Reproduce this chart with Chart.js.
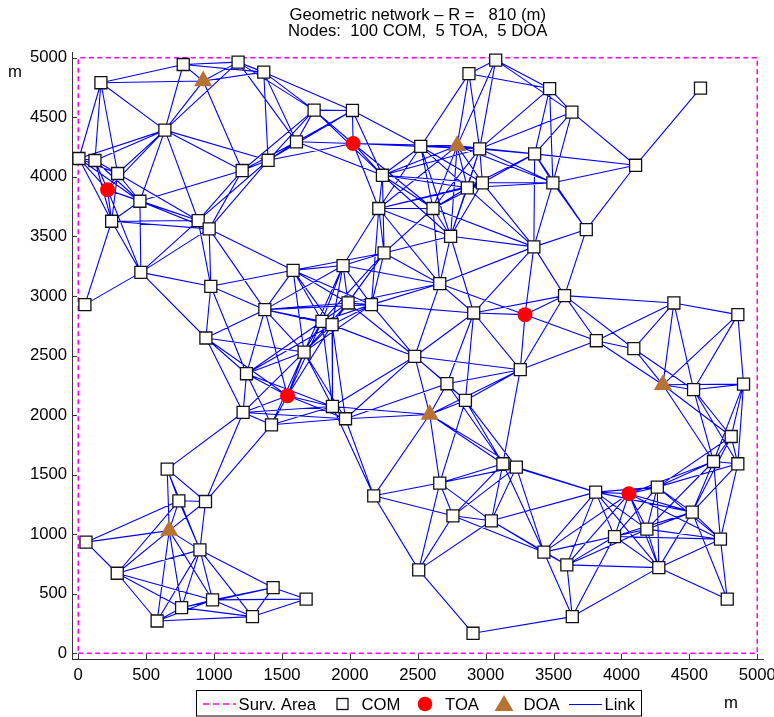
<!DOCTYPE html>
<html>
<head>
<meta charset="utf-8">
<script src="https://cdn.jsdelivr.net/npm/chart.js@4/dist/chart.umd.min.js"></script>
<style>
  html, body { margin: 0; padding: 0; background: #fff; }
  #wrap { position: relative; width: 774px; height: 717px; }
</style>
</head>
<body>
<div id="wrap"><canvas id="net" width="774" height="717"></canvas></div>
<script>
// Connection radius of the geometric network (m) and side of the surveillance square (m)
const LINK_RADIUS = 810;
const AREA_SIZE = 5000;

// Communication nodes (m)
const comX = [167,773,1177,1366,638,5,123,290,454,246,
              883,964,1207,1398,1737,2019,1607,2522,2877,3074,
              2956,2240,2976,2865,2213,2612,2742,3471,3635,3361,
              3495,4104,4582,3741,3355,461,49,976,1582,1374,
              940,1239,1214,1423,2252,1950,2662,1987,2159,1795,
              1869,2912,1663,2478,3255,2715,2851,1872,1968,3581,
              4386,4857,3815,4091,4531,4899,4808,655,741,937,
              57,896,287,1435,989,761,1283,581,1678,3127,
              3226,2662,2176,2759,3042,2507,2907,4678,4857,3810,
              4264,4521,4187,3949,4729,3429,3598,4275,4779,3638];
const comY = [4790,4943,4963,4879,4392,4154,4137,4028,3795,3627,
              3633,3563,4053,4139,4560,4557,4294,4255,4866,4980,
              4235,4013,3950,3908,3734,3734,3501,4741,4543,4193,
              3950,4097,4745,3557,3412,3198,2927,3081,3215,2885,
              2647,2347,2022,1918,3361,3255,3103,2941,2927,2787,
              2759,2857,2529,2492,2381,2263,2123,2072,1969,3003,
              2941,2843,2624,2557,2213,2260,1820,1546,1280,1274,
              933,868,672,551,448,383,308,271,455,1591,
              1563,1429,1322,1154,1112,700,168,1610,1591,1353,
              1395,1185,1042,980,958,849,742,719,454,308];

// Time-of-arrival anchors (m)
const toaX = [216, 2024, 3290, 1541, 4055];
const toaY = [3891, 4280, 2843, 2162, 1339];

// Direction-of-arrival anchors (m)
const doaX = [920, 2790, 2588, 4305, 670];
const doaY = [4804, 4260, 2005, 2254, 1030];

// Axis tick values (m)
const xTickValues = [0, 500, 1000, 1500, 2000, 2500, 3000, 3500, 4000, 4500, 5000];
const yTickValues = [0, 500, 1000, 1500, 2000, 2500, 3000, 3500, 4000, 4500, 5000];

const FONT = "'Liberation Sans', Arial, Helvetica, sans-serif";
const FONT_SIZE = 16.7;
const BLUE = '#0000ff';
const MAGENTA = '#ff00ff';
const COPPER = '#b87333';

const toPoints = (xs, ys) => xs.map((x, i) => ({ x: x, y: ys[i] }));

// Every pair of nodes closer than the radius gets a link
const allX = comX.concat(toaX, doaX);
const allY = comY.concat(toaY, doaY);
const linkPoints = [];
for (let i = 0; i < allX.length; i++) {
  for (let j = i + 1; j < allX.length; j++) {
    if (Math.hypot(allX[i] - allX[j], allY[i] - allY[j]) <= LINK_RADIUS) {
      linkPoints.push({ x: allX[i], y: allY[i] }, { x: allX[j], y: allY[j] }, { x: null, y: null });
    }
  }
}

const areaPoints = [
  { x: 0, y: 0 }, { x: AREA_SIZE, y: 0 }, { x: AREA_SIZE, y: AREA_SIZE },
  { x: 0, y: AREA_SIZE }, { x: 0, y: 0 }
];

// Titles, axis unit labels, inward tick marks and the boxed legend
const decorations = {
  id: 'decorations',
  afterDraw(chart) {
    const ctx = chart.ctx;
    const xs = chart.scales.x, ys = chart.scales.y;
    const area = chart.chartArea;
    ctx.save();

    // inward tick marks
    ctx.strokeStyle = '#333';
    ctx.lineWidth = 1;
    ctx.beginPath();
    xTickValues.forEach(v => {
      const px = Math.round(xs.getPixelForValue(v)) + 0.5;
      ctx.moveTo(px, area.bottom);
      ctx.lineTo(px, area.bottom - 5);
    });
    yTickValues.forEach(v => {
      const py = Math.round(ys.getPixelForValue(v)) + 0.5;
      ctx.moveTo(area.left, py);
      ctx.lineTo(area.left + 5, py);
    });
    ctx.stroke();

    ctx.fillStyle = '#000';
    ctx.font = FONT_SIZE + 'px ' + FONT;
    ctx.textBaseline = 'alphabetic';

    // title
    ctx.textAlign = 'center';
    const cx = (area.left + area.right) / 2;
    ctx.fillText('Geometric network \u2013 R =   810 (m)', cx, 20);
    ctx.fillText('Nodes:  100 COM,  5 TOA,  5 DOA', cx, 36);

    // axis units
    ctx.fillText('m', 15, 77);
    ctx.fillText('m', 731, 708);

    // legend
    const ly = 704;
    ctx.strokeStyle = '#000';
    ctx.lineWidth = 1;
    ctx.strokeRect(196.5, 690.5, 445, 25.5);

    ctx.strokeStyle = MAGENTA;
    ctx.lineWidth = 1.5;
    ctx.setLineDash([6, 4]);
    ctx.beginPath(); ctx.moveTo(203, ly); ctx.lineTo(236, ly); ctx.stroke();
    ctx.setLineDash([]);

    ctx.fillStyle = '#fff';
    ctx.strokeStyle = '#111';
    ctx.lineWidth = 1.3;
    ctx.fillRect(337, 698.5, 11, 11);
    ctx.strokeRect(337, 698.5, 11, 11);

    ctx.fillStyle = '#ff0000';
    ctx.beginPath(); ctx.arc(425, ly, 7.3, 0, Math.PI * 2); ctx.fill();

    ctx.fillStyle = COPPER;
    ctx.beginPath();
    ctx.moveTo(504, 695); ctx.lineTo(513.5, 711); ctx.lineTo(494.5, 711); ctx.closePath();
    ctx.fill();

    ctx.strokeStyle = BLUE;
    ctx.lineWidth = 1;
    ctx.beginPath(); ctx.moveTo(569, ly + 0.5); ctx.lineTo(602, ly + 0.5); ctx.stroke();

    ctx.fillStyle = '#000';
    ctx.textAlign = 'left';
    ctx.fillText('Surv. Area', 238.5, 709.5);
    ctx.fillText('COM', 361.5, 709.5);
    ctx.fillText('TOA', 445, 709.5);
    ctx.fillText('DOA', 523.5, 709.5);
    ctx.fillText('Link', 604.5, 709.5);

    ctx.restore();
  }
};

new Chart(document.getElementById('net'), {
  type: 'scatter',
  data: {
    datasets: [
      {
        label: 'Surv. Area',
        data: areaPoints,
        showLine: true,
        borderColor: MAGENTA,
        borderWidth: 1.5,
        borderDash: [5, 3.5],
        pointRadius: 0,
        fill: false,
        order: 5,
        clip: false
      },
      {
        label: 'Link',
        data: linkPoints,
        showLine: true,
        spanGaps: false,
        borderColor: BLUE,
        borderWidth: 1.1,
        pointRadius: 0,
        fill: false,
        order: 4,
        clip: false
      },
      {
        label: 'COM',
        data: toPoints(comX, comY),
        pointStyle: 'rect',
        pointRadius: 8.5,
        backgroundColor: '#ffffff',
        borderColor: '#111',
        borderWidth: 1.3,
        order: 3,
        clip: false
      },
      {
        label: 'TOA',
        data: toPoints(toaX, toaY),
        pointStyle: 'circle',
        pointRadius: 7.5,
        backgroundColor: '#ff0000',
        borderColor: '#ff0000',
        borderWidth: 0,
        order: 2,
        clip: false
      },
      {
        label: 'DOA',
        data: toPoints(doaX, doaY),
        pointStyle: 'triangle',
        pointRadius: 10.5,
        backgroundColor: COPPER,
        borderColor: COPPER,
        borderWidth: 0,
        order: 1,
        clip: false
      }
    ]
  },
  options: {
    responsive: false,
    animation: false,
    events: [],
    layout: { padding: { left: 0, right: 10, top: 52, bottom: 33 } },
    plugins: {
      legend: { display: false },
      title: { display: false },
      tooltip: { enabled: false }
    },
    scales: {
      x: {
        type: 'linear',
        min: -46,
        max: 5046,
        afterBuildTicks: s => { s.ticks = xTickValues.map(v => ({ value: v })); },
        afterFit: s => { s.height = 25; s.paddingLeft = 0; s.paddingRight = 0; },
        ticks: {
          font: { family: FONT, size: FONT_SIZE },
          color: '#000',
          maxRotation: 0,
          autoSkip: false,
          padding: 6,
          callback: v => String(v)
        },
        grid: { display: true, drawOnChartArea: false, drawTicks: false },
        border: { display: true, color: '#333', width: 1 }
      },
      y: {
        type: 'linear',
        min: -48,
        max: 5048,
        afterBuildTicks: s => { s.ticks = yTickValues.map(v => ({ value: v })); },
        afterFit: s => { s.width = 72; s.paddingTop = 0; s.paddingBottom = 0; },
        ticks: {
          font: { family: FONT, size: FONT_SIZE },
          color: '#000',
          autoSkip: false,
          padding: 5,
          callback: v => String(v)
        },
        grid: { display: true, drawOnChartArea: false, drawTicks: false },
        border: { display: true, color: '#333', width: 1 }
      }
    }
  },
  plugins: [decorations]
});
</script>
</body>
</html>
